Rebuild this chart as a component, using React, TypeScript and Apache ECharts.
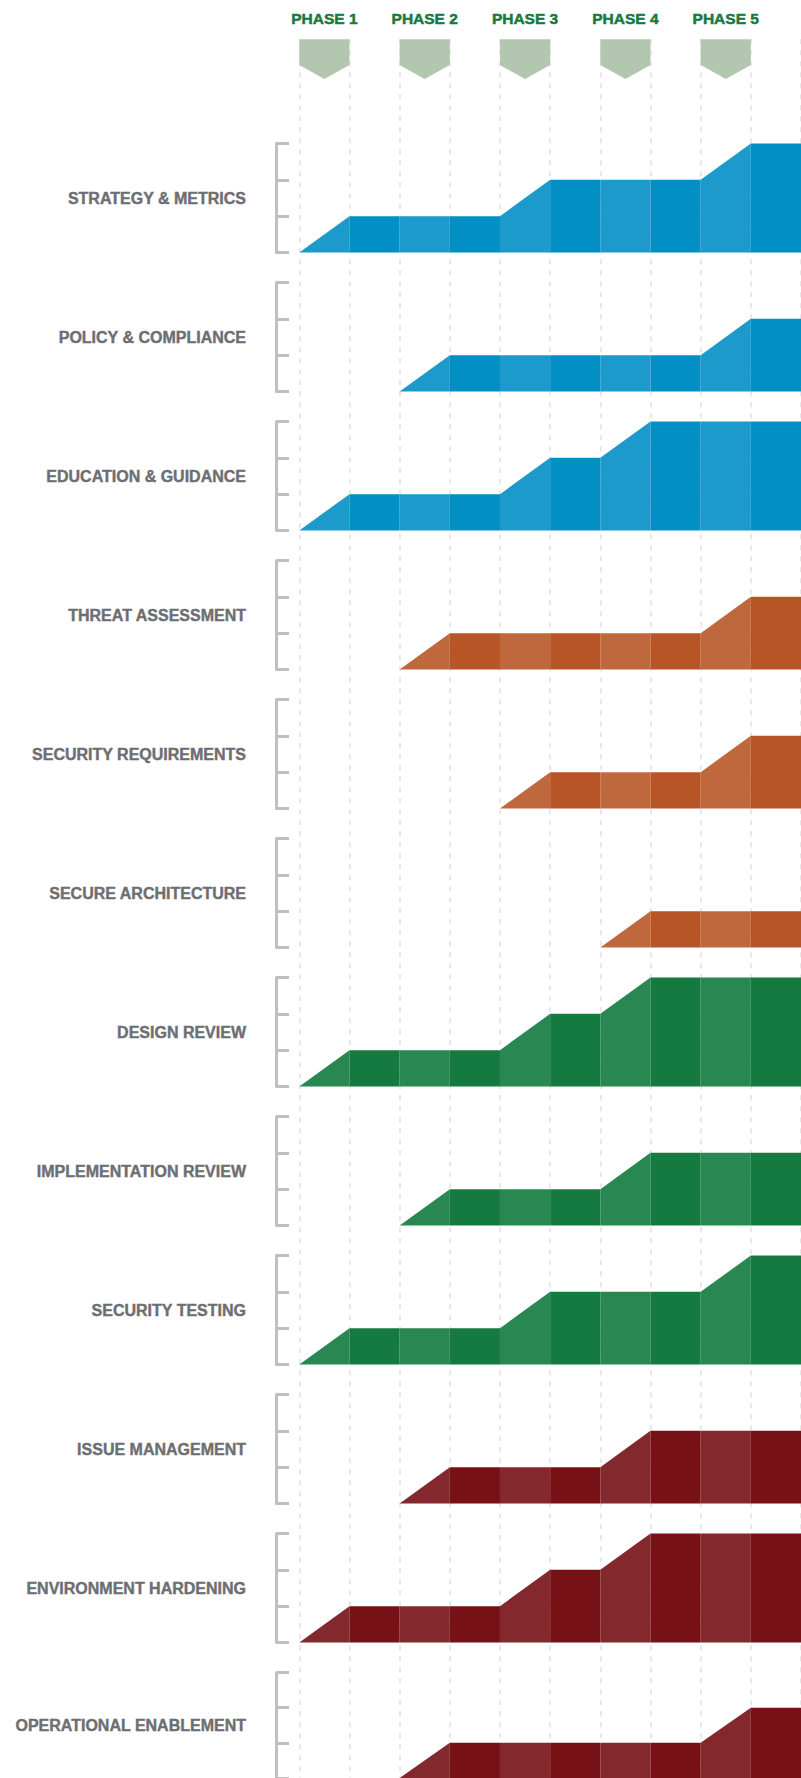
import React, { useEffect, useRef } from "react";
import * as echarts from "echarts";

// ---- data ----
const PHASES = ["PHASE 1", "PHASE 2", "PHASE 3", "PHASE 4", "PHASE 5"];
const PHASE_START = [0, 2, 4, 6, 8];

const ROW_LABELS = [
  "STRATEGY & METRICS",
  "POLICY & COMPLIANCE",
  "EDUCATION & GUIDANCE",
  "THREAT ASSESSMENT",
  "SECURITY REQUIREMENTS",
  "SECURE ARCHITECTURE",
  "DESIGN REVIEW",
  "IMPLEMENTATION REVIEW",
  "SECURITY TESTING",
  "ISSUE MANAGEMENT",
  "ENVIRONMENT HARDENING",
  "OPERATIONAL ENABLEMENT",
];
const ROW_GROUP = [0, 0, 0, 1, 1, 1, 2, 2, 2, 3, 3, 3];

// maturity level at each of the 11 half-phase boundaries (null = not started)
const N = null;
const LEVELS: (number | null)[][] = [
  [0, 1, 1, 1, 1, 2, 2, 2, 2, 3, 3],
  [N, N, 0, 1, 1, 1, 1, 1, 1, 2, 2],
  [0, 1, 1, 1, 1, 2, 2, 3, 3, 3, 3],
  [N, N, 0, 1, 1, 1, 1, 1, 1, 2, 2],
  [N, N, N, N, 0, 1, 1, 1, 1, 2, 2],
  [N, N, N, N, N, N, 0, 1, 1, 1, 1],
  [0, 1, 1, 1, 1, 2, 2, 3, 3, 3, 3],
  [N, N, 0, 1, 1, 1, 1, 2, 2, 2, 2],
  [0, 1, 1, 1, 1, 2, 2, 2, 2, 3, 3],
  [N, N, 0, 1, 1, 1, 1, 2, 2, 2, 2],
  [0, 1, 1, 1, 1, 2, 2, 3, 3, 3, 3],
  [N, N, 0, 1, 1, 1, 1, 1, 1, 2, 2],
];

// [light, dark] per business function
const PALETTE = [
  ["#1b9acb", "#028fc4"],
  ["#c0683d", "#b75527"],
  ["#298751", "#157a40"],
  ["#83282d", "#761216"],
];

// ---- layout ----
const W = 801;
const H = 1778;
const GRID_LEFT = 299.3;
const GRID_W = 508.5;
const ROW_TOP0 = 143.5;
const ROW_STEP = 139;
const ROW_H = 109;
const HEADER_TOP = 39.3;
const HEADER_H = 39.7;

export default function App() {
  const ref = useRef<HTMLDivElement>(null);

  useEffect(() => {
    if (!ref.current) return;
    const chart = echarts.init(ref.current, undefined, { renderer: "svg" });

    const grids: any[] = [];
    const xAxes: any[] = [];
    const yAxes: any[] = [];
    const series: any[] = [];

    // grid 0: background dashed guides
    grids.push({ left: GRID_LEFT, width: GRID_W, top: HEADER_TOP, bottom: 0 });
    xAxes.push({
      gridIndex: 0,
      type: "value",
      min: 0,
      max: 10,
      interval: 1,
      axisLine: { show: false },
      axisTick: { show: false },
      axisLabel: { show: false },
      splitLine: {
        show: true,
        lineStyle: { color: "#e1e2de", width: 1.5, type: [5, 6] },
      },
    });
    yAxes.push({ gridIndex: 0, type: "value", min: 0, max: 1, show: false });

    // grid 1: phase header
    grids.push({ left: GRID_LEFT, width: GRID_W, top: HEADER_TOP, height: HEADER_H });
    xAxes.push({ gridIndex: 1, type: "value", min: 0, max: 10, show: false });
    yAxes.push({ gridIndex: 1, type: "value", min: 0, max: 1, show: false });
    series.push({
      type: "custom",
      xAxisIndex: 1,
      yAxisIndex: 1,
      data: PHASE_START.map((s, i) => [s, i]),
      encode: { x: 0, y: 1 },
      renderItem: (params: any, api: any) => {
        const k = api.value(0);
        const tl = api.coord([k, 1]);
        const tr = api.coord([k + 1, 1]);
        const r = api.coord([k + 1, 0.35]);
        const tip = api.coord([k + 0.5, 0]);
        const l = api.coord([k, 0.35]);
        return {
          type: "group",
          children: [
            {
              type: "polygon",
              shape: { points: [tl, tr, r, tip, l] },
              style: { fill: "#b3c7b0" },
            },
            {
              type: "text",
              style: {
                text: PHASES[params.dataIndex],
                x: tip[0],
                y: tl[1] - 21,
                align: "center",
                verticalAlign: "middle",
                fill: "#177a3e",
                stroke: "#177a3e",
                lineWidth: 0.5,
                fontFamily: "Liberation Sans",
                fontWeight: "bold",
                fontSize: 15.5,
              },
            },
          ],
        };
      },
    });

    // rows
    LEVELS.forEach((lv, r) => {
      const gi = r + 2;
      const [light, dark] = PALETTE[ROW_GROUP[r]];
      grids.push({
        left: GRID_LEFT,
        width: GRID_W,
        top: ROW_TOP0 + ROW_STEP * r,
        height: ROW_H,
      });
      xAxes.push({ gridIndex: gi, type: "value", min: 0, max: 10, show: false });
      yAxes.push({
        gridIndex: gi,
        type: "value",
        min: 0,
        max: 3,
        interval: 1,
        position: "left",
        offset: 23.3,
        axisLine: {
          show: true,
          onZero: false,
          lineStyle: { color: "#bfbfbf", width: 3 },
        },
        axisTick: {
          show: true,
          inside: true,
          length: 13,
          lineStyle: { color: "#bfbfbf", width: 3 },
        },
        axisLabel: { show: false },
        splitLine: { show: false },
        name: ROW_LABELS[r],
        nameLocation: "middle",
        nameGap: 30,
        nameRotate: 0,
        nameTextStyle: {
          color: "#6d6e71",
          fontFamily: "Liberation Sans",
          fontWeight: "bold",
          fontSize: 16,
          align: "right",
          verticalAlign: "middle",
          padding: [0, 0, 8, 0],
          textBorderColor: "#6d6e71",
          textBorderWidth: 0.4,
        },
      });
      const segs: number[][] = [];
      for (let k = 0; k < 10; k++) {
        const a = lv[k];
        const b = lv[k + 1];
        if (a !== null && b !== null) segs.push([k, a, b]);
      }
      series.push({
        type: "custom",
        xAxisIndex: gi,
        yAxisIndex: gi,
        data: segs,
        encode: { x: 0, y: 1 },
        renderItem: (params: any, api: any) => {
          const k = api.value(0);
          const a = api.value(1);
          const b = api.value(2);
          const p0 = api.coord([k, 0]);
          const p1 = api.coord([k, a]);
          const p2 = api.coord([k + 1, b]);
          const p3 = api.coord([k + 1, 0]);
          return {
            type: "polygon",
            shape: { points: [p0, p1, p2, p3] },
            style: { fill: k % 2 === 0 ? light : dark },
          };
        },
      });
    });

    chart.setOption({
      animation: false,
      backgroundColor: "#ffffff",
      grid: grids,
      xAxis: xAxes,
      yAxis: yAxes,
      series,
    });

    return () => chart.dispose();
  }, []);

  return (
    <div
      ref={ref}
      style={{ position: "absolute", left: 0, top: 0, width: W, height: H }}
    />
  );
}
